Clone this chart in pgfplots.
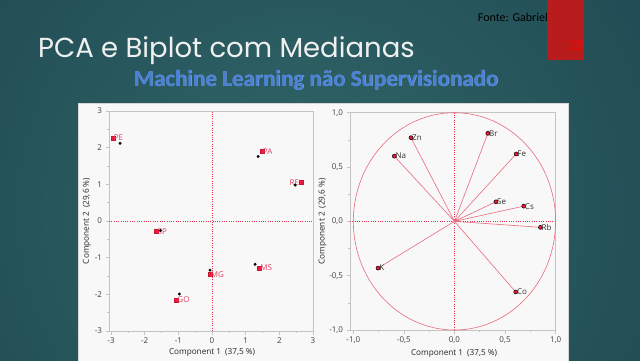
\documentclass[border=0pt]{standalone}
\usepackage{pgfplots}
\pgfplotsset{compat=1.18}
\usepackage{fontspec}
\setmainfont{Open Sans}
\newfontfamily\titlefont{Poppins}
\newfontfamily\calfont{Carlito}
\definecolor{bginner}{HTML}{306769}
\definecolor{bgouter}{HTML}{163644}
\definecolor{panelbg}{HTML}{F8F8F8}
\definecolor{framegray}{HTML}{C4C4C4}
\definecolor{tickgray}{HTML}{404040}
\definecolor{refred}{HTML}{E0304A}
\definecolor{sqred}{HTML}{EE1A3C}
\definecolor{lblred}{HTML}{E2405E}
\definecolor{vecred}{HTML}{E86A7C}
\definecolor{subblue}{HTML}{4A80D6}
\definecolor{barred}{HTML}{B81C1C}
\pgfplotsset{pcastyle/.style={
  scale only axis, clip=false,
  axis line style={draw=framegray, line width=0.6pt},
  tick align=outside, xtick pos=bottom, ytick pos=left,
  minor tick num=1,
  major tick length=3.5pt, minor tick length=2pt,
  every tick/.style={draw=framegray, line width=0.6pt},
  tick label style={font=\fontsize{8}{9}\selectfont, text=tickgray},
  label style={font=\fontsize{8.2}{9}\selectfont, text=black!85},
  /pgf/number format/assume math mode=true,
}}
\begin{document}
\begin{tikzpicture}[x=1pt,y=1pt]
\useasboundingbox (0,0) rectangle (640,-360);
\begin{scope}
\clip (0,0) rectangle (640,-360);
\fill[bgouter] (0,0) rectangle (640,-360);
\shade[inner color=bginner, outer color=bgouter] (300pt,-210pt) circle (720pt);
\fill[panelbg] (78,-103) rectangle (568,-362);
\draw[framegray!70, line width=0.5pt] (78,-362) -- (78,-103) -- (568,-103) -- (568,-362);
\end{scope}
% header
\node[anchor=base west, inner sep=0pt, text=white!94!black, font=\titlefont\fontsize{27.5}{30}\selectfont] at (38,-57) {PCA e Biplot com Medianas};
\node[anchor=base, inner sep=0pt, text=subblue!60!white, font=\calfont\bfseries\fontsize{23}{25}\selectfont] at (316.4,-86.4) {Machine Learning não Supervisionado};
\node[anchor=base, inner sep=0pt, text=subblue, font=\calfont\bfseries\fontsize{23}{25}\selectfont] at (316,-86) {Machine Learning não Supervisionado};
\fill[barred] (547,0) rectangle (584,-60);
\node[anchor=base east, inner sep=0pt, text=black, font=\calfont\fontsize{12}{13}\selectfont] at (548,-21) {Fonte: Gabriel};
\node[anchor=base east, inner sep=0pt, text=red, font=\calfont\fontsize{15}{16}\selectfont] at (583,-50) {33};

% left plot: scores
\begin{axis}[pcastyle,
  at={(109pt,-331pt)}, anchor=south west,
  width=204pt, height=220pt,
  xmin=-3.06, xmax=3, ymin=-3, ymax=3,
  xtick={-3,-2,...,3}, ytick={-3,-2,...,3},
  xlabel={Component 1\enspace(37,5 \%)},
  ylabel={Component 2\enspace(29,6 \%)},
  x label style={at={(axis description cs:0.505,-0.1)}, anchor=center},
  y label style={at={(axis description cs:-0.108,0.5)}, anchor=center},
]
\addplot[refred, dash pattern=on 1pt off 1.3pt, line width=0.6pt] coordinates {(0,-3) (0,3)};
\addplot[refred, dash pattern=on 1pt off 1.3pt, line width=0.6pt] coordinates {(-3.06,0) (3,0)};
\addplot[only marks, mark=square*, mark size=2pt,
  mark options={fill=sqred, draw=sqred!85!black, line width=0.3pt},
  nodes near coords, point meta=explicit symbolic,
  nodes near coords style={anchor=west, font=\fontsize{8}{9}\selectfont, text=lblred, inner sep=1pt}]
  table[meta=lab] {
x y lab
-2.95 2.27 PE
1.48 1.90 PA
-1.65 -0.29 SP
-0.07 -1.45 MG
1.40 -1.28 MS
-1.06 -2.15 GO
};
\addplot[only marks, mark=square*, mark size=2pt,
  mark options={fill=sqred, draw=sqred!85!black, line width=0.3pt},
  nodes near coords, point meta=explicit symbolic,
  nodes near coords style={anchor=east, font=\fontsize{8}{9}\selectfont, text=lblred, inner sep=1pt, xshift=-1pt}]
  table[meta=lab] {
x y lab
2.65 1.06 RE
};
\addplot[only marks, mark=*, mark size=1.3pt, black] coordinates {
(-2.73,2.12) (1.37,1.76) (2.47,0.98) (-1.53,-0.26) (-0.06,-1.34) (1.28,-1.18) (-0.97,-1.99)};
\end{axis}

% right plot: loadings
\begin{axis}[pcastyle,
  at={(350pt,-330pt)}, anchor=south west,
  width=205.6pt, height=217.3pt,
  xmin=-1.033, xmax=1.0, ymin=-1, ymax=1,
  xtick={-1,-0.5,0,0.5,1}, ytick={-1,-0.5,0,0.5,1},
  /pgf/number format/.cd, fixed, fixed zerofill, precision=1, use comma, /tikz/.cd,
  xlabel={Component 1\enspace(37,5 \%)},
  ylabel={Component 2\enspace(29,6 \%)},
  x label style={at={(axis description cs:0.506,-0.106)}, anchor=center},
  y label style={at={(axis description cs:-0.133,0.5)}, anchor=center},
]
\addplot[refred, dash pattern=on 1pt off 1.3pt, line width=0.6pt] coordinates {(0,-1) (0,1)};
\addplot[refred, dash pattern=on 1pt off 1.3pt, line width=0.6pt] coordinates {(-1.033,0) (1,0)};
\draw[vecred, line width=0.6pt] (axis cs:0,0) ellipse [x radius=1, y radius=1];
\addplot[vecred, line width=0.6pt] coordinates {
(0,0) (-0.43,0.77) (0,0) (-0.595,0.60) (0,0) (0.33,0.81) (0,0) (0.61,0.62)
(0,0) (0.41,0.18) (0,0) (0.685,0.14) (0,0) (0.85,-0.055) (0,0) (-0.756,-0.43)
(0,0) (0.606,-0.65)};
\addplot[only marks, mark=*, mark size=2pt,
  mark options={fill=sqred, draw=black, line width=0.5pt},
  nodes near coords, point meta=explicit symbolic,
  nodes near coords style={anchor=west, font=\fontsize{8}{9}\selectfont, text=black!80, inner sep=1pt}]
  table[meta=lab] {
x y lab
-0.43 0.77 Zn
-0.595 0.60 Na
0.33 0.81 Br
0.61 0.62 Fe
0.41 0.18 Se
0.685 0.14 Cs
0.85 -0.055 Rb
-0.756 -0.43 K
0.606 -0.65 Co
};
\end{axis}
\end{tikzpicture}
\end{document}
